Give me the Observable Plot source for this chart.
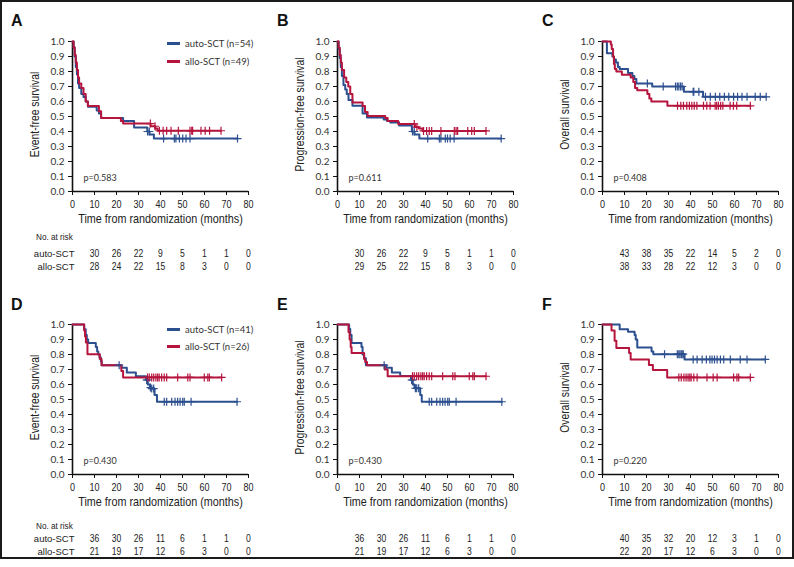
<!DOCTYPE html>
<html><head><meta charset="utf-8">
<script src="https://cdn.jsdelivr.net/npm/d3@7"></script>
<script src="https://cdn.jsdelivr.net/npm/@observablehq/plot@0.6"></script>
<style>
html,body{margin:0;padding:0;background:#fff;}
#fig{position:relative;width:794px;height:567px;overflow:hidden;background:#fff;}
#frame{position:absolute;left:0;top:0;width:790px;height:555px;border:2px solid #1b1b1b;}
.abs{position:absolute;white-space:nowrap;}
.letter{font-family:"Liberation Sans",Arial,sans-serif;font-weight:bold;font-size:16px;line-height:16px;color:#111;}
.cond{font-family:"Liberation Sans",Arial,sans-serif;color:#222;transform:scaleX(0.86);transform-origin:left center;}
.leg{font-family:Lato,"Noto Sans",sans-serif;font-size:9.5px;line-height:12px;color:#333;}
.swatch{display:inline-block;width:13px;height:3px;vertical-align:middle;margin-right:5px;position:relative;top:-1px;}
</style></head>
<body><div id="fig"><div id="frame"></div></div>
<script>
// ---- ticks / labels ----
const xTicks = [0, 10, 20, 30, 40, 50, 60, 70, 80];
const yTicks = [0, 0.1, 0.2, 0.3, 0.4, 0.5, 0.6, 0.7, 0.8, 0.9, 1.0];
const riskMonths = [10, 20, 30, 40, 50, 60, 70, 80];
const groupNames = ["auto-SCT", "allo-SCT"];
const panelLetters = ["A", "B", "C", "D", "E", "F"];
const xTitle = "Time from randomization (months)";
const yLabels = ["Event-free survival", "Progression-free survival", "Overall survival",
                 "Event-free survival", "Progression-free survival", "Overall survival"];
const pValues = ["p=0.583", "p=0.611", "p=0.408", "p=0.430", "p=0.430", "p=0.220"];
const legendTop = ["auto-SCT (n=54)", "allo-SCT (n=49)"];
const legendBottom = ["auto-SCT (n=41)", "allo-SCT (n=26)"];

// ---- Panel A: EFS (all) ----
const aAutoT = [0, 0.5, 1, 1.5, 2, 2.5, 3, 4, 5, 6, 7, 11, 12, 13, 23, 28, 34, 35, 37];
const aAutoS = [1, 0.96, 0.9, 0.83, 0.78, 0.72, 0.69, 0.65, 0.63, 0.6, 0.565, 0.54, 0.52, 0.49, 0.47, 0.427, 0.40, 0.38, 0.353];
const aAutoC = [34.1, 34.9, 41.4, 46.3, 47, 48.6, 50.1, 51.6, 53.4, 75];
const aAlloT = [0, 0.5, 1, 1.5, 2, 2.5, 3, 4, 5, 6, 7, 12, 13, 22, 23, 35.5, 37.6, 38.7];
const aAlloS = [1, 0.96, 0.91, 0.86, 0.81, 0.76, 0.72, 0.69, 0.65, 0.6, 0.57, 0.535, 0.49, 0.47, 0.453, 0.435, 0.42, 0.405];
const aAlloC = [35.4, 37.5, 39.5, 41.2, 42.8, 44.8, 48.1, 53.4, 54.2, 54.6, 58.4, 60.3, 62.3, 67.5];
const aRiskAuto = [30, 26, 22, 9, 5, 1, 1, 0];
const aRiskAllo = [28, 24, 22, 15, 8, 3, 0, 0];

// ---- Panel B: PFS (all) ----
const bAutoT = [0, 0.5, 1, 1.5, 2, 2.7, 3.5, 4.2, 5, 6.8, 11.4, 13.4, 21, 22.5, 24, 28, 33.8, 35, 37.2];
const bAutoS = [1, 0.95, 0.89, 0.83, 0.77, 0.71, 0.68, 0.65, 0.61, 0.571, 0.52, 0.493, 0.48, 0.47, 0.46, 0.44, 0.40, 0.38, 0.353];
const bAutoC = [34.1, 34.9, 41, 46.3, 47, 49, 50, 51.2, 53, 74.4];
const bAlloT = [0, 0.5, 1, 1.5, 2, 3, 4, 4.9, 5.8, 6.8, 11.4, 12.5, 13.7, 21.7, 22.8, 27.6, 35.2, 37, 38.7];
const bAlloS = [1, 0.96, 0.91, 0.86, 0.81, 0.76, 0.73, 0.7, 0.65, 0.593, 0.57, 0.53, 0.504, 0.49, 0.47, 0.45, 0.43, 0.42, 0.404];
const bAlloC = [34.9, 36.1, 39.1, 40.5, 41.7, 42.8, 47, 53.1, 53.9, 54.6, 59.2, 61, 62.2, 67.5];
const bRiskAuto = [30, 26, 22, 9, 5, 1, 1, 0];
const bRiskAllo = [29, 25, 22, 15, 8, 3, 0, 0];

// ---- Panel C: OS (all) ----
const cAutoT = [0, 2, 4.5, 5.2, 6.1, 7, 7.8, 11.6, 13.6, 14.5, 15.4, 22.6, 37, 45.7];
const cAutoS = [1, 0.922, 0.9, 0.88, 0.86, 0.83, 0.816, 0.79, 0.77, 0.75, 0.72, 0.70, 0.665, 0.631];
const cAutoC = [20.4, 27.6, 33.2, 34, 34.7, 35.5, 36.2, 41.2, 41.5, 43.8, 46.8, 49, 51.3, 53.3, 55.4, 57.4, 59.6, 61.4, 63.4, 65.7, 69.4, 71.7, 74.4];
const cAlloT = [0, 3.8, 4.2, 4.8, 5.2, 5.6, 6.3, 8.8, 12.8, 14, 14.8, 15.8, 20.4, 21.3, 22.2, 29.5];
const cAlloS = [1, 0.98, 0.95, 0.9, 0.85, 0.816, 0.8, 0.778, 0.76, 0.73, 0.69, 0.675, 0.65, 0.62, 0.6, 0.571];
const cAlloC = [34.1, 35.6, 36.8, 38.3, 39.5, 40.6, 41.7, 42.9, 45.9, 47.4, 48.9, 51.2, 51.9, 52.7, 53.7, 54.7, 58, 59.5, 61, 67.2];
const cRiskAuto = [43, 38, 35, 22, 14, 5, 2, 0];
const cRiskAllo = [38, 33, 28, 22, 12, 3, 0, 0];

// ---- Panel D: EFS (subgroup) ----
const dAutoT = [0, 5.3, 6, 6.5, 7.1, 10.6, 11.2, 11.7, 12.3, 12.9, 13.3, 22.3, 24.7, 28.8, 33.4, 34.2, 35.2, 36, 37.3, 38.4];
const dAutoS = [1, 0.969, 0.93, 0.9, 0.876, 0.85, 0.82, 0.8, 0.78, 0.755, 0.729, 0.711, 0.68, 0.655, 0.63, 0.6, 0.58, 0.573, 0.53, 0.485];
const dAutoC = [21.2, 33.7, 34.1, 35.4, 36, 36.9, 41.7, 42.8, 45.1, 46.6, 47.8, 48.9, 50.1, 50.8, 53.9, 74.8];
const dAlloT = [0, 5.3, 5.7, 6.1, 6.8, 12.4, 13.2, 22.2, 23];
const dAlloS = [1, 0.96, 0.92, 0.88, 0.802, 0.77, 0.729, 0.69, 0.647];
const dAlloC = [34.1, 34.9, 36, 36.9, 37.9, 38.7, 39.4, 40.5, 41.7, 42.8, 47.8, 52.4, 53.4, 59.9, 61.5, 62.2, 67.8];
const dRiskAuto = [36, 30, 26, 11, 6, 1, 1, 0];
const dRiskAllo = [21, 19, 17, 12, 6, 3, 0, 0];

// ---- Panel E: PFS (subgroup) ----
const eAutoT = [0, 5.3, 5.8, 6.4, 10.9, 11.4, 12.1, 12.9, 22.2, 24.7, 28.5, 33.4, 34.2, 35, 37.6, 38.3];
const eAutoS = [1, 0.97, 0.93, 0.876, 0.85, 0.8, 0.775, 0.729, 0.711, 0.68, 0.656, 0.63, 0.6, 0.575, 0.53, 0.485];
const eAutoC = [21.2, 33.7, 34.1, 35.4, 36, 36.9, 41.7, 42.8, 45.1, 46.6, 47.8, 48.9, 50.1, 50.8, 53.9, 74.7];
const eAlloT = [0, 5, 5.5, 6, 6.4, 12.1, 12.6, 13.4, 21.5, 22.8];
const eAlloS = [1, 0.95, 0.9, 0.85, 0.81, 0.77, 0.75, 0.729, 0.7, 0.655];
const eAlloC = [34.1, 34.9, 36, 36.9, 37.9, 38.7, 39.4, 40.5, 41.7, 42.8, 47.8, 52.4, 53.4, 59.9, 61.5, 62.2, 67.5];
const eRiskAuto = [36, 30, 26, 11, 6, 1, 1, 0];
const eRiskAllo = [21, 19, 17, 12, 6, 3, 0, 0];

// ---- Panel F: OS (subgroup) ----
const fAutoT = [0, 7.8, 11.6, 14.6, 15.1, 15.8, 22.3, 23.1, 37.3];
const fAutoS = [1, 0.969, 0.951, 0.93, 0.9, 0.847, 0.82, 0.802, 0.767];
const fAutoC = [28.2, 34, 34.7, 35.2, 35.8, 36.2, 36.7, 41.2, 43, 45.3, 47.2, 48.8, 49.8, 50.9, 52.1, 53.6, 55.1, 58.1, 62.6, 65.7, 74];
const fAlloT = [0, 4.1, 5.5, 6.3, 12.1, 12.8, 21.1, 22.9, 29.4];
const fAlloS = [1, 0.96, 0.891, 0.844, 0.81, 0.767, 0.73, 0.696, 0.647];
const fAlloC = [34.7, 35.8, 37, 38, 38.9, 39.7, 40.3, 41.5, 43, 47.5, 50.3, 52.1, 59.6, 61.1, 61.9, 67.2];
const fRiskAuto = [40, 35, 32, 20, 12, 3, 1, 0];
const fRiskAllo = [22, 20, 17, 12, 6, 3, 0, 0];

// ---- assembly ----
const BLUE = "#2c4f8f", RED = "#b5143d";
const NARROW = "'Liberation Sans',Arial,sans-serif";
const REG = "Lato,'Noto Sans',sans-serif";
const colLeft = [0, 265, 530];
const rowTop = [0, 283];
const riskTop = [246, 531];
const noRiskY = [231, 519.5];
const letterPos = [[11, 13], [277, 13], [542, 13], [11, 297], [277, 297], [542, 297]];
const legendY = [[38, 56], [324, 340.7]];

const panels = [
  {auto: [aAutoT, aAutoS, aAutoC], allo: [aAlloT, aAlloS, aAlloC], risk: [aRiskAuto, aRiskAllo]},
  {auto: [bAutoT, bAutoS, bAutoC], allo: [bAlloT, bAlloS, bAlloC], risk: [bRiskAuto, bRiskAllo]},
  {auto: [cAutoT, cAutoS, cAutoC], allo: [cAlloT, cAlloS, cAlloC], risk: [cRiskAuto, cRiskAllo]},
  {auto: [dAutoT, dAutoS, dAutoC], allo: [dAlloT, dAlloS, dAlloC], risk: [dRiskAuto, dRiskAllo]},
  {auto: [eAutoT, eAutoS, eAutoC], allo: [eAlloT, eAlloS, eAlloC], risk: [eRiskAuto, eRiskAllo]},
  {auto: [fAutoT, fAutoS, fAutoC], allo: [fAlloT, fAlloS, fAlloC], risk: [fRiskAuto, fRiskAllo]}
];

function steps([t, s, c], group) {
  const pts = t.map((ti, i) => ({time: ti, surv: s[i], group}));
  pts.push({time: d3.max(c), surv: s[s.length - 1], group});
  return pts;
}
function censors([t, s, c], group) {
  return c.map(ci => ({time: ci, surv: s[Math.max(0, d3.bisectRight(t, ci) - 1)], group}));
}

const fig = document.getElementById("fig");
function place(el, left, top) {
  el.style.position = "absolute";
  el.style.left = left + "px";
  el.style.top = top + "px";
  fig.appendChild(el);
}
function div(cls, text, left, top) {
  const d = document.createElement("div");
  d.className = "abs " + cls;
  d.textContent = text;
  place(d, left, top);
  return d;
}
// narrow the condensed-style texts (the original uses a condensed face):
// scale each text along its own baseline, around its anchor point
function condense(svg) {
  svg.querySelectorAll("text").forEach(t => {
    if (t.closest('[aria-label="y-axis tick label"]')) return;
    const s = t.textContent;
    if (s.startsWith("p=")) return;
    const f = s === xTitle ? 0.9 : 0.86;
    let tr = t.getAttribute("transform") || "";
    const x = t.getAttribute("x");
    if (x != null && isFinite(+x)) {
      tr = `translate(${+x},0) ` + tr;
      t.removeAttribute("x");
    }
    t.setAttribute("transform", `${tr} scale(${f},1)`.trim());
  });
}

panels.forEach((p, i) => {
  const col = i % 3, row = Math.floor(i / 3);
  const lineData = [...steps(p.auto, groupNames[0]), ...steps(p.allo, groupNames[1])];
  const censData = [...censors(p.auto, groupNames[0]), ...censors(p.allo, groupNames[1])];

  const chart = Plot.plot({
    width: 265, height: 232,
    marginLeft: 72, marginRight: 17, marginTop: 41, marginBottom: 41,
    style: {background: "transparent", overflow: "visible", fontFamily: REG},
    x: {domain: [0, 80], axis: null},
    y: {domain: [0, 1], axis: null},
    color: {domain: groupNames, range: [BLUE, RED]},
    marks: [
      Plot.axisX(xTicks, {tickSize: 4, tickPadding: 5, label: null, fontSize: 10.5, fontFamily: NARROW, stroke: "#111", color: "#222"}),
      Plot.axisY(yTicks, {tickSize: 4, tickPadding: 4, tickFormat: ".1f", label: null, fontSize: 10, fontFamily: REG, stroke: "#111", color: "#333"}),
      Plot.ruleX([0], {stroke: "#111", strokeWidth: 1.6}),
      Plot.ruleY([0], {stroke: "#111", strokeWidth: 1.6}),
      Plot.text([xTitle], {text: d => d, frameAnchor: "bottom", dy: 31, fontSize: 12, fontFamily: NARROW, fill: "#222"}),
      Plot.text([yLabels[i]], {text: d => d, frameAnchor: "left", textAnchor: "middle", rotate: -90, dx: -37, dy: -2, fontSize: 12, fontFamily: NARROW, fill: "#222"}),
      Plot.text([pValues[i]], {text: d => d, frameAnchor: "bottom-left", dx: 11, dy: -11, textAnchor: "start", fontSize: 9, fontFamily: REG, fill: "#333"}),
      Plot.line(lineData, {x: "time", y: "surv", z: "group", stroke: "group", curve: "step-after", strokeWidth: 2}),
      Plot.dot(censData, {x: "time", y: "surv", stroke: "group", symbol: "plus", r: 2.7, strokeWidth: 1.2})
    ]
  });
  place(chart, colLeft[col], rowTop[row]);
  condense(chart);

  const riskData = [];
  p.risk.forEach((arr, g) => arr.forEach((n, k) => riskData.push({month: riskMonths[k], group: groupNames[g], n})));
  const showLabels = col === 0;
  const riskChart = Plot.plot({
    width: 265, height: 26,
    marginLeft: 72, marginRight: 17, marginTop: 6.5, marginBottom: 6.5,
    style: {background: "transparent", overflow: "visible", fontFamily: NARROW},
    x: {domain: [0, 80], axis: null},
    y: {domain: groupNames, padding: 0, axis: null},
    marks: [
      Plot.text(riskData, {x: "month", y: "group", text: "n", fontSize: 10, fontFamily: NARROW, fill: "#222"}),
      ...(showLabels ? [Plot.axisY({tickSize: 0, tickPadding: -2, fontSize: 9.5, fontFamily: NARROW, label: null, color: "#222"})] : [])
    ]
  });
  place(riskChart, colLeft[col], riskTop[row]);
  condense(riskChart);

  div("letter", panelLetters[i], letterPos[i][0], letterPos[i][1]);
  if (showLabels) div("cond", "No. at risk", 36, noRiskY[row]).style.fontSize = "9.5px";
});

// legends (panels A and D)
[legendTop, legendBottom].forEach((labels, row) => {
  labels.forEach((lab, g) => {
    const d = document.createElement("div");
    d.className = "abs leg";
    const sw = document.createElement("span");
    sw.className = "swatch";
    sw.style.background = g === 0 ? BLUE : RED;
    d.appendChild(sw);
    d.appendChild(document.createTextNode(lab));
    place(d, 167, legendY[row][g]);
  });
});
</script></body></html>
